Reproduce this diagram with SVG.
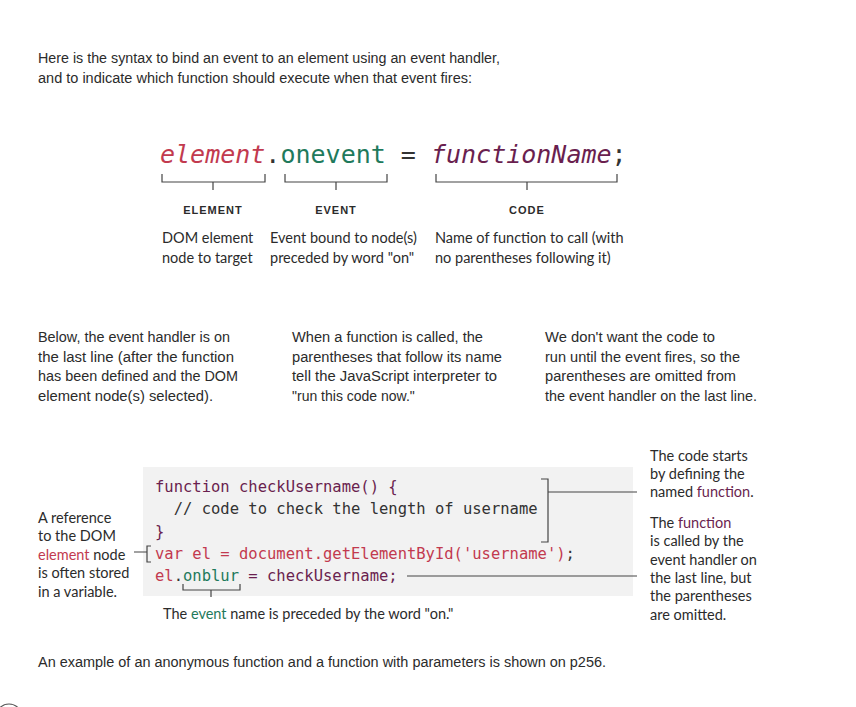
<svg xmlns="http://www.w3.org/2000/svg" width="856" height="707" viewBox="0 0 856 707">
  <style>
    .body { font-family: "Liberation Sans", Arial, sans-serif; font-size: 14px; fill: #2b2b2b; }
    .note { font-family: Lato, "Open Sans", sans-serif; font-size: 14.5px; fill: #2b2b2b; }
    .cap { font-family: "Liberation Sans", Arial, sans-serif; font-size: 11px; font-weight: bold; letter-spacing: 1px; fill: #2b2b2b; text-anchor: middle; }
    .big { font-family: "DejaVu Sans Mono", "Liberation Mono", monospace; font-size: 25px; }
    .code { font-family: "DejaVu Sans Mono", "Liberation Mono", monospace; font-size: 15.5px; fill: #333; }
    .red { fill: #c23a4f; }
    .green { fill: #1f7a5c; }
    .purple { fill: #6a1f4f; }
    .dark { fill: #333; }
    .ln { fill: none; stroke: #444; stroke-width: 1.2; }
  </style>

  <!-- intro -->
  <g id="intro">
    <text class="body" x="38" y="63" textLength="462" lengthAdjust="spacingAndGlyphs">Here is the syntax to bind an event to an element using an event handler,</text>
    <text class="body" x="38" y="83" textLength="434" lengthAdjust="spacingAndGlyphs">and to indicate which function should execute when that event fires:</text>
  </g>

  <!-- syntax: element.onevent = functionName; -->
  <g id="syntax">
    <text class="big" x="160" y="163"><tspan class="red" font-style="italic">element</tspan><tspan class="dark">.</tspan><tspan class="green">onevent</tspan><tspan class="dark"> = </tspan><tspan class="purple" font-style="italic">functionName</tspan><tspan class="dark">;</tspan></text>
  </g>

  <g id="element">
    <path class="ln" d="M162 174V182H265V174M213 182V190"/>
    <text class="cap" x="213" y="214">ELEMENT</text>
    <text class="note" x="162" y="243">DOM element</text>
    <text class="note" x="162" y="263">node to target</text>
  </g>

  <g id="event">
    <path class="ln" d="M285 174V182H387V174M336 182V190"/>
    <text class="cap" x="336" y="214">EVENT</text>
    <text class="note" x="270" y="243">Event bound to node(s)</text>
    <text class="note" x="270" y="263">preceded by word "on"</text>
  </g>

  <g id="code">
    <path class="ln" d="M436 174V182H617V174M527 182V190"/>
    <text class="cap" x="527" y="214">CODE</text>
    <text class="note" x="435" y="243">Name of function to call (with</text>
    <text class="note" x="435" y="263">no parentheses following it)</text>
  </g>

  <!-- three explanatory columns -->
  <g id="col-handler">
    <text class="body" x="38" y="342" textLength="192" lengthAdjust="spacingAndGlyphs">Below, the event handler is on</text>
    <text class="body" x="38" y="362" textLength="196" lengthAdjust="spacingAndGlyphs">the last line (after the function</text>
    <text class="body" x="38" y="381" textLength="200" lengthAdjust="spacingAndGlyphs">has been defined and the DOM</text>
    <text class="body" x="38" y="401" textLength="175" lengthAdjust="spacingAndGlyphs">element node(s) selected).</text>
  </g>
  <g id="col-called">
    <text class="body" x="292" y="342" textLength="191" lengthAdjust="spacingAndGlyphs">When a function is called, the</text>
    <text class="body" x="292" y="362" textLength="210" lengthAdjust="spacingAndGlyphs">parentheses that follow its name</text>
    <text class="body" x="292" y="381" textLength="205" lengthAdjust="spacingAndGlyphs">tell the JavaScript interpreter to</text>
    <text class="body" x="292" y="401">"run this code now."</text>
  </g>
  <g id="col-omitted">
    <text class="body" x="545" y="342" textLength="170" lengthAdjust="spacingAndGlyphs">We don't want the code to</text>
    <text class="body" x="545" y="362" textLength="195" lengthAdjust="spacingAndGlyphs">run until the event fires, so the</text>
    <text class="body" x="545" y="381" textLength="191" lengthAdjust="spacingAndGlyphs">parentheses are omitted from</text>
    <text class="body" x="545" y="401" textLength="212" lengthAdjust="spacingAndGlyphs">the event handler on the last line.</text>
  </g>

  <!-- code listing -->
  <g id="listing">
    <rect x="143" y="467" width="490" height="129" fill="#f2f2f2"/>
    <text class="code" x="155" y="492"><tspan class="purple">function checkUsername() {</tspan></text>
    <text class="code" x="155" y="514" xml:space="preserve">  // code to check the length of username</text>
    <text class="code purple" x="155" y="537">}</text>
    <text class="code" x="155" y="559"><tspan class="red">var el = document.getElementById('username')</tspan><tspan class="dark">;</tspan></text>
    <text class="code" x="155" y="581"><tspan class="red">el</tspan><tspan class="dark">.</tspan><tspan class="green">onblur</tspan><tspan class="purple"> = checkUsername;</tspan></text>
  </g>

  <g id="note-reference">
    <text class="note" x="38" y="523">A reference</text>
    <text class="note" x="38" y="541">to the DOM</text>
    <text class="note" x="38" y="560"><tspan class="red">element</tspan> node</text>
    <text class="note" x="38" y="578">is often stored</text>
    <text class="note" x="38" y="597">in a variable.</text>
  </g>

  <g id="note-defines">
    <text class="note" x="650" y="461">The code starts</text>
    <text class="note" x="650" y="479">by defining the</text>
    <text class="note" x="650" y="497">named <tspan class="purple">function</tspan>.</text>
  </g>

  <g id="note-called">
    <text class="note" x="650" y="528">The <tspan class="purple">function</tspan></text>
    <text class="note" x="650" y="546">is called by the</text>
    <text class="note" x="650" y="565">event handler on</text>
    <text class="note" x="650" y="583">the last line, but</text>
    <text class="note" x="650" y="601">the parentheses</text>
    <text class="note" x="650" y="620">are omitted.</text>
  </g>

  <g id="note-event">
    <text class="note" x="163" y="619">The <tspan class="green">event</tspan> name is preceded by the word "on."</text>
  </g>

  <!-- connectors -->
  <g id="connectors">
    <path class="ln" d="M541 479H548V542H541M548 492H637"/>
    <path class="ln" d="M407 576H637"/>
    <path class="ln" d="M134 552H147M151 546H147V562H151"/>
    <path class="ln" d="M183 584V590H240V584M211 590V597"/>
  </g>

  <g id="footer">
    <text class="body" x="38" y="667" textLength="568" lengthAdjust="spacingAndGlyphs">An example of an anonymous function and a function with parameters is shown on p256.</text>
    <circle cx="9" cy="717" r="13" fill="none" stroke="#555" stroke-width="1.2"/>
  </g>
</svg>
